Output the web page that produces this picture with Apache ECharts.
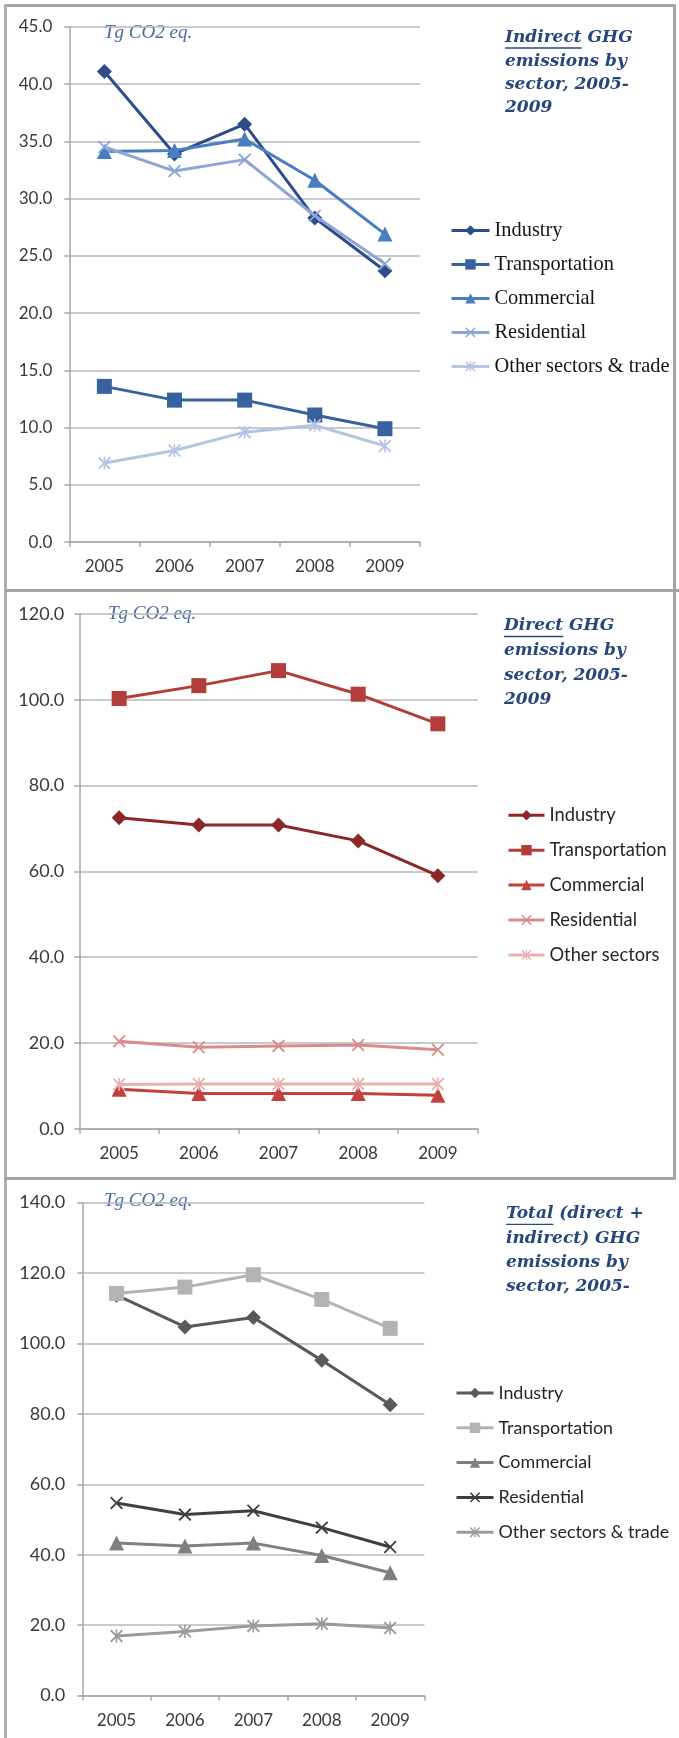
<!DOCTYPE html>
<html>
<head>
<meta charset="utf-8">
<title>GHG emissions by sector, 2005-2009</title>
<script src="https://cdn.jsdelivr.net/npm/echarts@6/dist/echarts.min.js"></script>
<style>
  html, body { margin: 0; padding: 0; background: #fff; }
  #page { position: relative; width: 679px; height: 1738px; overflow: hidden; background: #fff; }
  .panel { position: absolute; left: 0; width: 679px; }
  .rule { position: absolute; background: #a4a4a4; pointer-events: none; }
</style>
</head>
<body>
<div id="page">
  <div id="p1" class="panel" style="top:0;height:591px"></div>
  <div id="p2" class="panel" style="top:591px;height:588px"></div>
  <div id="p3" class="panel" style="top:1179px;height:559px"></div>

  <!-- panel frames -->
  <div class="rule" style="left:4px;top:4px;width:672px;height:3px"></div>
  <div class="rule" style="left:4px;top:4px;width:3px;height:1734px;background:#b0b0b0"></div>
  <div class="rule" style="left:673px;top:4px;width:3px;height:1175px"></div>
  <div class="rule" style="left:4px;top:589px;width:675px;height:3px"></div>
  <div class="rule" style="left:4px;top:1177px;width:672px;height:3px"></div>
</div>

<script>
// ---- data (Tg CO2 eq.) ----
const years = ['2005', '2006', '2007', '2008', '2009'];

const sectorsIndirect = ['Industry', 'Transportation', 'Commercial', 'Residential', 'Other sectors & trade'];
const sectorsDirect   = ['Industry', 'Transportation', 'Commercial', 'Residential', 'Other sectors'];
const sectorsTotal    = ['Industry', 'Transportation', 'Commercial', 'Residential', 'Other sectors & trade'];

const indirectIndustry       = [41.1, 33.9, 36.5, 28.3, 23.7];
const indirectTransportation = [13.6, 12.4, 12.4, 11.1, 9.9];
const indirectCommercial     = [34.1, 34.2, 35.2, 31.6, 26.9];
const indirectResidential    = [34.5, 32.4, 33.4, 28.5, 24.3];
const indirectOther          = [6.9, 8.0, 9.6, 10.2, 8.4];

const directIndustry       = [72.5, 70.8, 70.8, 67.1, 59.0];
const directTransportation = [100.3, 103.3, 106.8, 101.3, 94.4];
const directCommercial     = [9.2, 8.2, 8.2, 8.2, 7.8];
const directResidential    = [20.4, 19.0, 19.3, 19.5, 18.4];
const directOther          = [10.3, 10.4, 10.4, 10.4, 10.4];

const totalIndustry       = [113.7, 104.7, 107.4, 95.2, 82.6];
const totalTransportation = [114.2, 116.0, 119.5, 112.5, 104.3];
const totalCommercial     = [43.3, 42.5, 43.3, 39.8, 34.9];
const totalResidential    = [54.7, 51.4, 52.5, 47.7, 42.2];
const totalOther          = [16.9, 18.2, 19.8, 20.4, 19.2];

// ---- marker shapes ----
const SYM_X = 'path://M0,1L1,0L5,4L9,0L10,1L6,5L10,9L9,10L5,6L1,10L0,9L4,5Z';
const SYM_STAR = 'path://M0,1L1,0L5,4L9,0L10,1L6,5L10,9L9,10L5,6L1,10L0,9L4,5Z M4.4,0L5.6,0L5.6,10L4.4,10Z';
const SYMBOLS = ['diamond', 'rect', 'triangle', SYM_X, SYM_STAR];
const SYMBOL_SIZES = [15, 15, 15, 13, 13];

const TITLE_FONT = 'italic bold 17px "DejaVu Serif"';
const TITLE_COLOR = '#27477c';
const UNIT_FONT = 'italic 19px "Liberation Serif"';
const UNIT_COLOR = '#4a6aa5';
const TICK_FONT = 'Lato';

function measure(text, font) {
  const ctx = document.createElement('canvas').getContext('2d');
  ctx.font = font;
  return ctx.measureText(text).width;
}

// font size at which `text` spans `width` pixels
function fitSize(text, family, width) {
  const w = measure(text, '20px ' + family);
  return Math.round(20 * width / w * 10) / 10;
}

function buildSeries(names, values, colors) {
  return names.map((name, i) => ({
    name: name,
    type: 'line',
    data: values[i],
    symbol: SYMBOLS[i],
    symbolSize: SYMBOL_SIZES[i],
    lineStyle: { width: 3, color: colors[i] },
    itemStyle: { color: colors[i] },
    emphasis: { disabled: true },
    animation: false,
    z: 2 + i
  }));
}

function titleGraphics(lines, x, centers, underlineWord) {
  const els = lines.map((t, i) => ({
    type: 'text',
    left: x, top: centers[i] - 11,
    style: { text: t, font: TITLE_FONT, fill: TITLE_COLOR }
  }));
  const w = measure(underlineWord, TITLE_FONT);
  els.push({
    type: 'line',
    shape: { x1: x, y1: centers[0] + 8, x2: x + w, y2: centers[0] + 8 },
    style: { stroke: TITLE_COLOR, lineWidth: 1.3 }
  });
  return els;
}

function makePanel(el, cfg) {
  const chart = echarts.init(document.getElementById(el), null, { renderer: 'canvas' });
  const lg = cfg.legend;
  const legendSize = fitSize(lg.fitText, lg.font, lg.fitWidth);
  chart.setOption({
    animation: false,
    backgroundColor: 'transparent',
    grid: {
      left: cfg.grid.left, top: cfg.grid.top, width: cfg.grid.width, height: cfg.grid.height,
      containLabel: false, outerBoundsMode: 'none'
    },
    xAxis: {
      type: 'category',
      data: years,
      boundaryGap: true,
      axisLine: { show: true, lineStyle: { color: '#a6a6a6', width: 1.5 } },
      axisTick: { show: true, interval: 0, length: 5, inside: false, lineStyle: { color: '#a6a6a6', width: 1.5 } },
      axisLabel: { margin: 16, color: '#3a3a3a', fontFamily: TICK_FONT, fontSize: 17 },
      splitLine: { show: false }
    },
    yAxis: {
      type: 'value',
      min: 0, max: cfg.yMax, interval: cfg.yStep,
      axisLine: { show: true, lineStyle: { color: '#a6a6a6', width: 1.5 } },
      axisTick: { show: true, length: 5, lineStyle: { color: '#a6a6a6', width: 1.5 } },
      axisLabel: {
        margin: cfg.yLabelMargin, color: '#3a3a3a', fontFamily: TICK_FONT, fontSize: cfg.yFontSize,
        formatter: v => v.toFixed(1)
      },
      splitLine: { show: true, lineStyle: { color: '#b9b9b9', width: 1.5 } }
    },
    legend: {
      orient: 'vertical',
      left: lg.left, top: lg.firstCenter - 10,
      padding: 0,
      itemWidth: lg.itemWidth, itemHeight: 13,
      itemGap: lg.step - 20,
      selectedMode: false,
      lineStyle: { width: 3 },
      textStyle: {
        fontFamily: lg.font, fontSize: legendSize,
        lineHeight: 20, color: lg.color
      },
      data: cfg.names
    },
    series: buildSeries(cfg.names, cfg.values, cfg.colors),
    graphic: [
      {
        type: 'text', left: cfg.unit.x, top: cfg.unit.y - 11,
        style: { text: 'Tg CO2 eq.', font: UNIT_FONT, fill: UNIT_COLOR }
      }
    ].concat(titleGraphics(cfg.title, cfg.titleX, cfg.titleCenters, cfg.underline))
  });
  return chart;
}

// Indirect emissions (blue)
makePanel('p1', {
  grid: { left: 69.3, top: 26.8, width: 350.7, height: 515.3 },
  yMax: 45, yStep: 5, yFontSize: 17, yLabelMargin: 17,
  names: sectorsIndirect,
  values: [indirectIndustry, indirectTransportation, indirectCommercial, indirectResidential, indirectOther],
  colors: ['#2c4d89', '#37619f', '#4a7cc0', '#8da6d6', '#b6c4e4'],
  legend: {
    left: 450, firstCenter: 230.4, step: 34, itemWidth: 38,
    font: '"Liberation Serif"', fitText: 'Other sectors & trade', fitWidth: 175, color: '#151515'
  },
  unit: { x: 104, y: 34 },
  title: ['Indirect GHG', 'emissions by', 'sector, 2005-', '2009'],
  titleX: 505, titleCenters: [40, 64, 87, 110], underline: 'Indirect'
});

// Direct emissions (red)
makePanel('p2', {
  grid: { left: 79.3, top: 23, width: 398.4, height: 514.7 },
  yMax: 120, yStep: 20, yFontSize: 18, yLabelMargin: 15,
  names: sectorsDirect,
  values: [directIndustry, directTransportation, directCommercial, directResidential, directOther],
  colors: ['#8c2727', '#b23d3b', '#c4403d', '#da8b8a', '#e8b2b1'],
  legend: {
    left: 507, firstCenter: 224.3, step: 34.9, itemWidth: 36,
    font: 'Lato', fitText: 'Transportation', fitWidth: 117, color: '#262626'
  },
  unit: { x: 108, y: 24 },
  title: ['Direct GHG', 'emissions by', 'sector, 2005-', '2009'],
  titleX: 504, titleCenters: [37.5, 62.4, 87.3, 110.6], underline: 'Direct'
});

// Total (direct + indirect) emissions (grey)
makePanel('p3', {
  grid: { left: 82.3, top: 23.6, width: 342.1, height: 493 },
  yMax: 140, yStep: 20, yFontSize: 18, yLabelMargin: 17,
  names: sectorsTotal,
  values: [totalIndustry, totalTransportation, totalCommercial, totalResidential, totalOther],
  colors: ['#595959', '#b3b3b3', '#808080', '#3f3f3f', '#9a9a9a'],
  legend: {
    left: 455, firstCenter: 214, step: 34.8, itemWidth: 37,
    font: 'Lato', fitText: 'Other sectors & trade', fitWidth: 171, color: '#262626'
  },
  unit: { x: 104, y: 23 },
  title: ['Total (direct +', 'indirect) GHG', 'emissions by', 'sector, 2005-'],
  titleX: 506, titleCenters: [37.3, 62.4, 85.8, 110.2], underline: 'Total'
});
</script>
</body>
</html>
